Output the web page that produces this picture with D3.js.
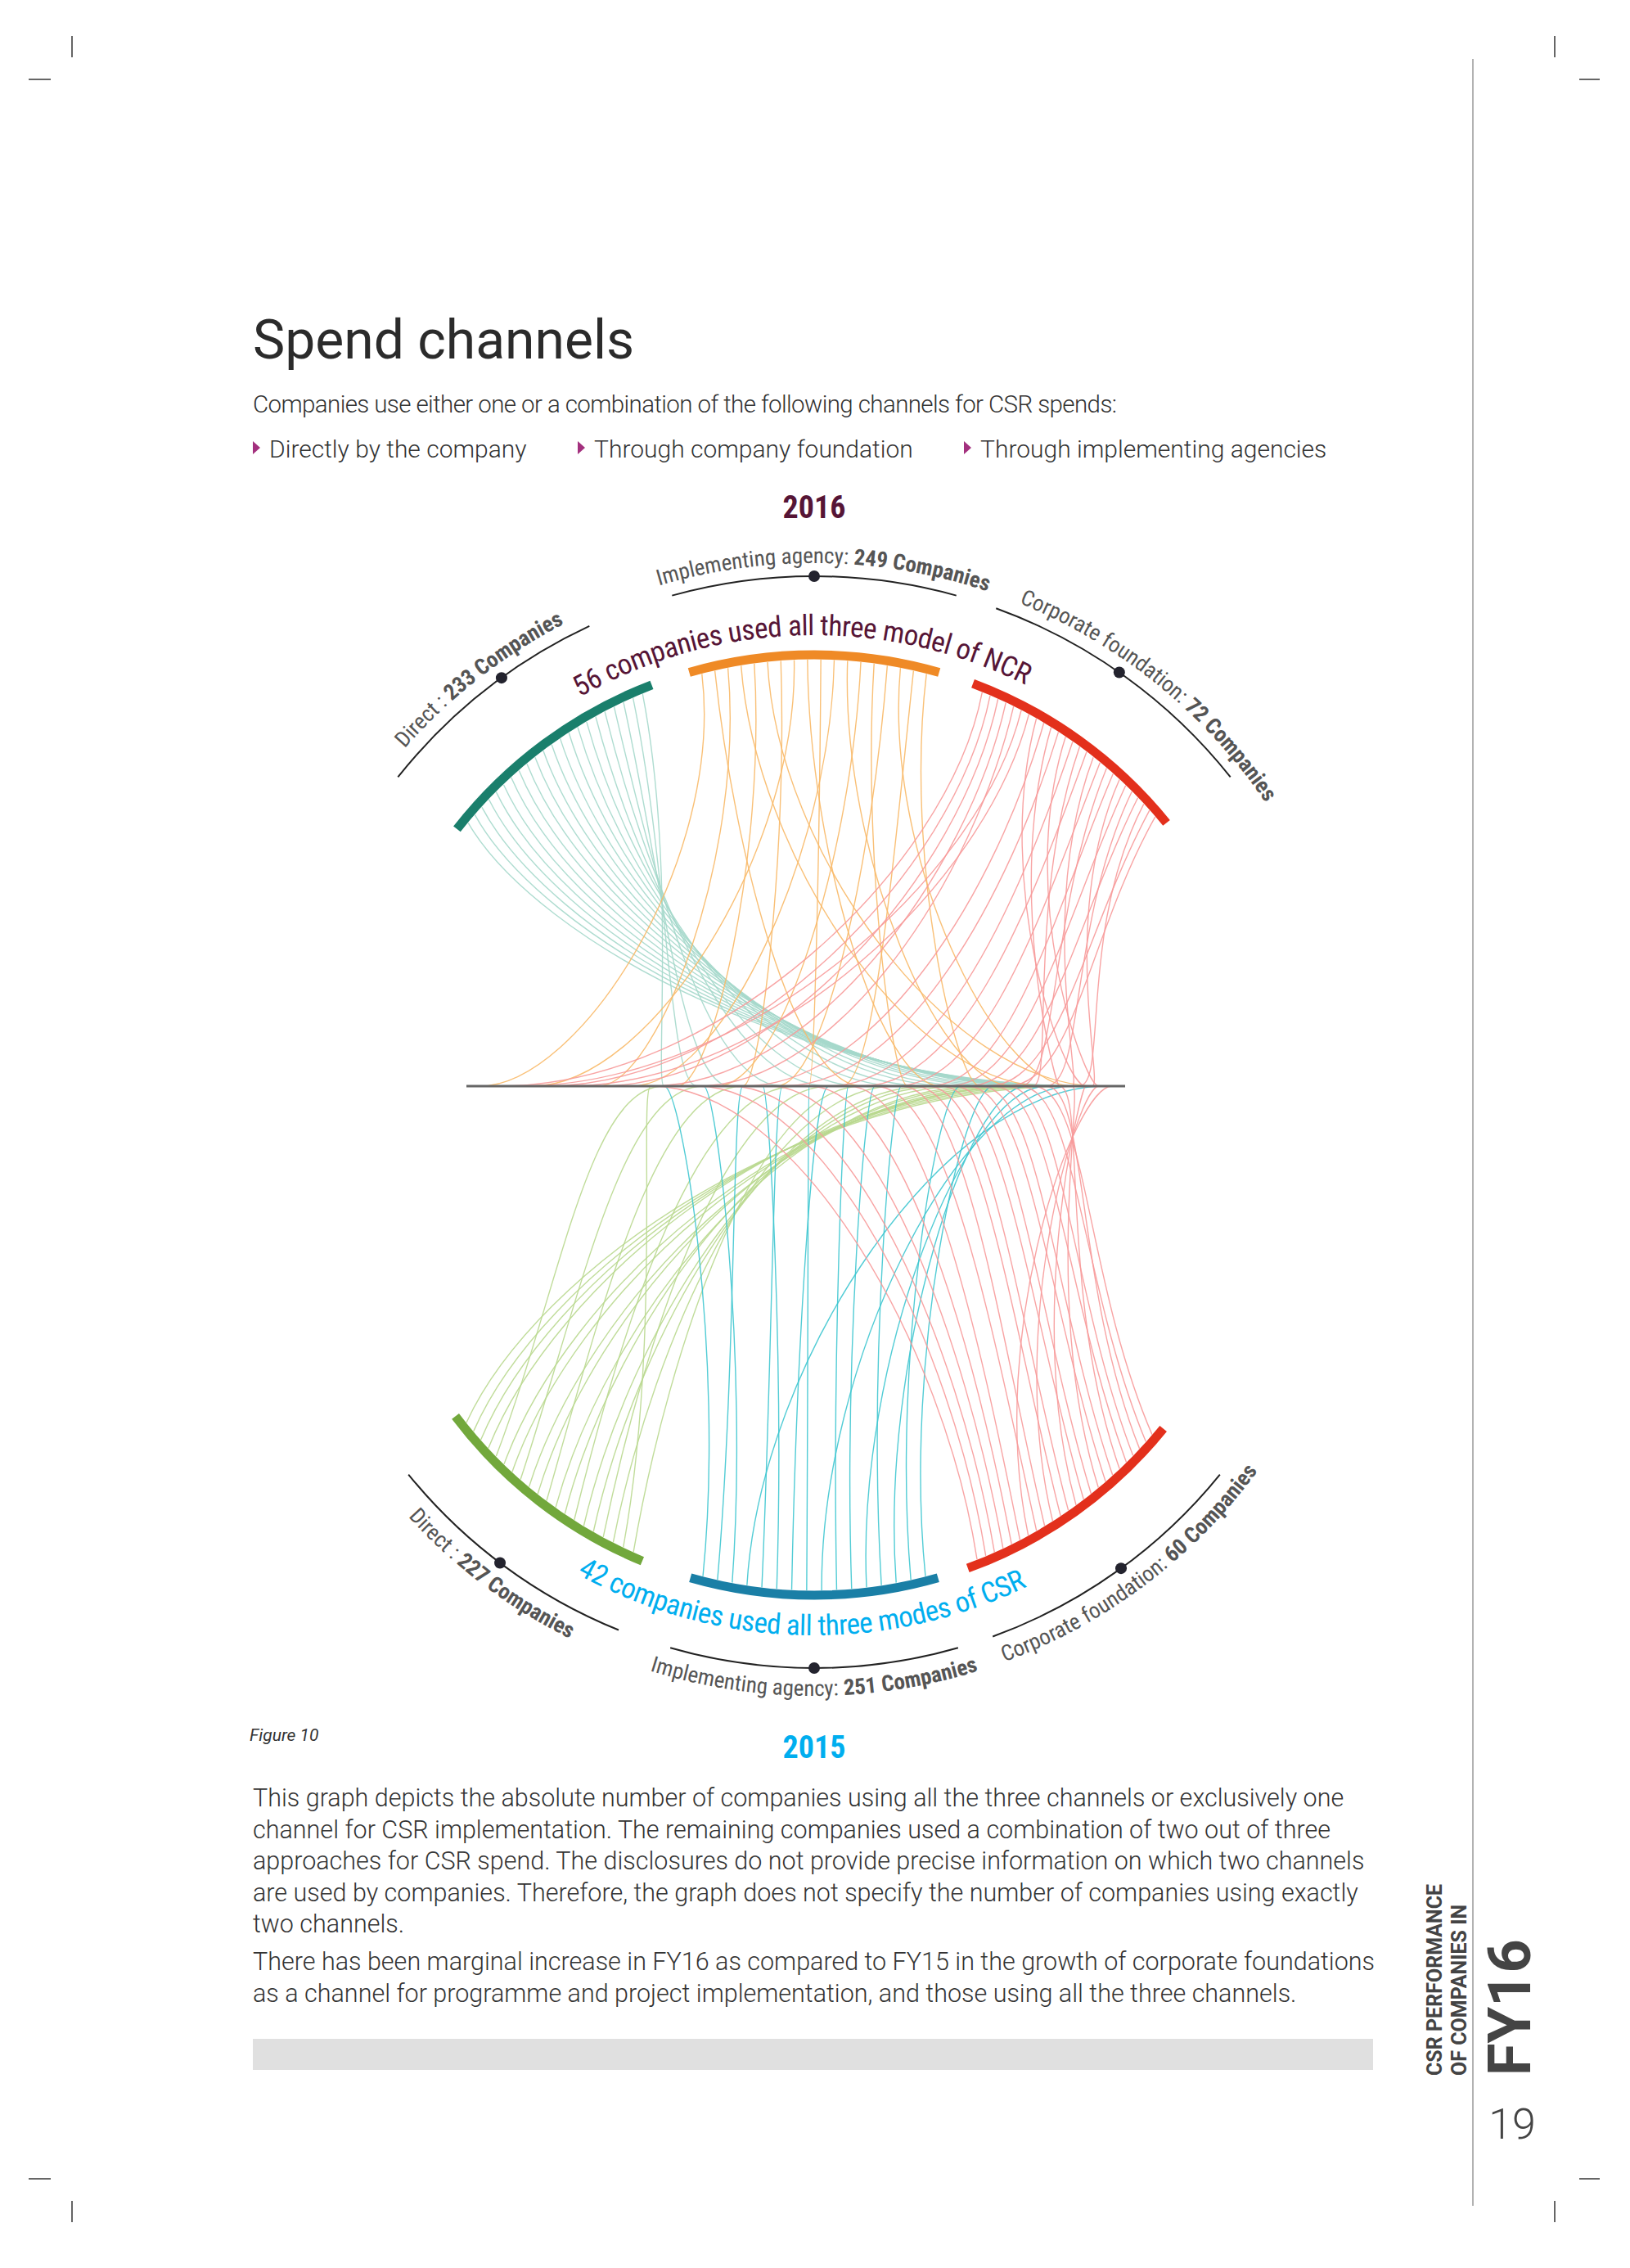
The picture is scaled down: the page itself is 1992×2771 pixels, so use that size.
<!DOCTYPE html>
<html><head><meta charset="utf-8">
<script src="https://cdn.jsdelivr.net/npm/d3@7"></script>
<style>
body{margin:0;background:#fff;}
text{font-family:"Roboto Condensed","Liberation Sans Narrow",Roboto,sans-serif;}
.body{font-family:Roboto,sans-serif;font-weight:300;fill:#333;}
</style></head>
<body><div id="chart"></div>
<script>
var W = 1992, H = 2771;

// channels and counts
var channels = ["Direct", "Implementing agency", "Corporate foundation"];
var counts2016 = [233, 249, 72];
var counts2015 = [227, 251, 60];
var allThree2016 = 56, allThree2015 = 42;

// where each link lands on the middle line (0 = left end, 100 = right end), in order along each bar
var ends2016Direct = [94,93,92,91,90,89,88,87,86,84,82,80,77,74,70,66,60,55,48,40,35,30];
var ends2016Agency = [2,60,20,88,32,96,42,10,72,52,25,83,38,67,47,92,57,78];
var ends2016Found = [5,12,20,28,35,8,15,94,42,90,48,96,55,86,60,92,65,84,70,95,73,88,76,93,79,82];
var ends2015Direct = [92,90,88,86,30,85,84,36,82,80,42,78,75,50,72,70,55,65,28,60];
var ends2015Agency = [30,42,36,97,48,45,55,52,92,58,62,88,66,85,75,80];
var ends2015Found = [28,35,40,46,52,58,98,62,66,96,68,70,94,72,74,92,76,78,90,80,82,88,84,86];

var svg = d3.select("#chart").append("svg").attr("width", W).attr("height", H);
var rad = Math.PI / 180;

// crop marks + side rule
var marks = [[88,44,88,70],[35,97,62,97],[1900,44,1900,70],[1930,97,1955,97],
  [88,2689,88,2715],[35,2662,62,2662],[1900,2689,1900,2715],[1930,2662,1955,2662],[1800,72,1800,2695]];
marks.forEach(function(m){
  svg.append("line").attr("x1",m[0]).attr("y1",m[1]).attr("x2",m[2]).attr("y2",m[3])
    .attr("stroke", m[3]-m[1] > 100 ? "#999" : "#333").attr("stroke-width",1.5);
});

// header
svg.append("text").attr("class","body").attr("x",309).attr("y",438).style("font-weight",400)
  .attr("font-size",66).style("fill","#2b2b2b").text("Spend channels");
svg.append("text").attr("class","body").attr("x",309).attr("y",504).attr("font-size",29.5)
  .attr("letter-spacing",-0.6).text("Companies use either one or a combination of the following channels for CSR spends:");
var bullets = [[309,"Directly by the company"],[706,"Through company foundation"],[1178,"Through implementing agencies"]];
bullets.forEach(function(b){
  svg.append("path").attr("d","M"+b[0]+",539 l9,8 l-9,8z").attr("fill","#a3307e");
  svg.append("text").attr("class","body").attr("x",b[0]+20).attr("y",559).attr("font-size",30).text(b[1]);
});

var lineY = 1327;
var x = d3.scaleLinear().domain([0,100]).range([570,1375]);

function pt(cx, cy, r, a, up){ // angle in degrees from top (up) or bottom
  return up ? [cx + r*Math.sin(a*rad), cy - r*Math.cos(a*rad)]
            : [cx + r*Math.sin(a*rad), cy + r*Math.cos(a*rad)];
}
function arcPath(cx, cy, r, a0, a1, up){
  var p0 = pt(cx,cy,r,a0,up), p1 = pt(cx,cy,r,a1,up);
  return "M"+p0[0]+","+p0[1]+" A"+r+","+r+" 0 0,"+(up?1:0)+" "+p1[0]+","+p1[1];
}

var uid = 0;
function drawHalf(cfg){
  var g = svg.append("g");
  var cx = 995, cy = cfg.cy, r = cfg.r, up = cfg.up;
  // links
  cfg.bars.forEach(function(b){
    var n = b.ends.length;
    var ang = d3.scaleLinear().domain([0, n-1]).range([b.a0 + 1.5, b.a1 - 1.5]);
    b.ends.forEach(function(e, i){
      var p0 = pt(cx, cy, r - 6, ang(i), up);
      var ex = x(e);
      var c1 = [p0[0] + (cx - p0[0]) * 0.2, p0[1] + (lineY - p0[1]) * 0.45];
      var c2 = [ex * 0.55 + p0[0] * 0.45, lineY];
      g.append("path").attr("d", "M"+p0+" C"+c1+" "+c2+" "+ex+","+lineY)
        .attr("fill","none").attr("stroke", b.link).attr("stroke-width",1.4).attr("opacity",0.9);
    });
  });
  // bars
  cfg.bars.forEach(function(b){
    g.append("path").attr("d", arcPath(cx, cy, r, b.a0, b.a1, up))
      .attr("fill","none").attr("stroke", b.color).attr("stroke-width",11);
  });
  // outer thin arcs with labels
  cfg.outer.forEach(function(o, i){
    g.append("path").attr("d", arcPath(cx, cy, cfg.ro, o.a0, o.a1, up))
      .attr("fill","none").attr("stroke","#222").attr("stroke-width",2);
    var d = pt(cx, cy, cfg.ro, o.dot, up);
    g.append("circle").attr("cx",d[0]).attr("cy",d[1]).attr("r",7).attr("fill","#23232e");
    var id = "lp" + (uid++);
    svg.append("defs").append("path").attr("id",id)
      .attr("d", arcPath(cx, cy, cfg.rl, o.mid-70, o.mid+70, up));
    var t = g.append("text").attr("font-size",27).attr("fill","#555")
      .append("textPath").attr("href","#"+id).attr("startOffset","50%").attr("text-anchor","middle");
    t.append("tspan").text(channels[i] + (i==0 ? " : " : ": "));
    t.append("tspan").attr("font-weight","bold").text(cfg.counts[i] + " Companies");
  });
  // big caption
  var id2 = "lp" + (uid++);
  svg.append("defs").append("path").attr("id",id2).attr("d", arcPath(cx, cy, cfg.rt, -80, 80, up));
  g.append("text").attr("font-size",35).attr("fill",cfg.captionColor).attr("letter-spacing",-0.5)
    .append("textPath").attr("href","#"+id2).attr("startOffset","49%").attr("text-anchor","middle")
    .text(cfg.caption);
  svg.append("text").attr("x",995).attr("y",cfg.yearY).attr("text-anchor","middle")
    .attr("font-size",38).attr("font-weight","bold").attr("fill",cfg.captionColor).text(cfg.year);
}

drawHalf({up:true, cy:1354, r:554, ro:650, rl:666, rt:578, year:"2016", yearY:633,
  counts:counts2016, captionColor:"#561536",
  caption: allThree2016 + " companies used all three model of NCR",
  bars:[{a0:-52,a1:-21,color:"#1a7f6c",link:"#a5d8cb",ends:ends2016Direct},
        {a0:-16,a1:16,color:"#ef8a26",link:"#f8b968",ends:ends2016Agency},
        {a0:20.5,a1:51,color:"#e3301c",link:"#f79a9a",ends:ends2016Found}],
  outer:[{a0:-51.5,a1:-25,dot:-36,mid:-38},{a0:-15.5,a1:15.5,dot:0,mid:1},{a0:20,a1:51.5,dot:35,mid:39}]});

drawHalf({up:false, cy:1400, r:549, ro:638, rl:672, rt:598, year:"2015", yearY:2148,
  counts:counts2015, captionColor:"#00aeef",
  caption: allThree2015 + " companies used all three  modes of CSR",
  bars:[{a0:-53,a1:-22.5,color:"#72a83c",link:"#b9d88f",ends:ends2015Direct},
        {a0:-16,a1:16,color:"#1a7fa6",link:"#3fc7d0",ends:ends2015Agency},
        {a0:20,a1:51,color:"#e3301c",link:"#f79a9a",ends:ends2015Found}],
  outer:[{a0:-51,a1:-22,dot:-37,mid:-37},{a0:-16,a1:16,dot:0,mid:0},{a0:20,a1:51,dot:36,mid:37}]});

// middle line
svg.append("line").attr("x1",x(0)).attr("x2",x(100)).attr("y1",lineY).attr("y2",lineY)
  .attr("stroke","#666").attr("stroke-width",3);

svg.append("text").attr("x",305).attr("y",2127).attr("font-size",21).attr("font-style","italic")
  .style("font-family","Roboto").attr("fill","#333").text("Figure 10");

var para1 = ["This graph depicts the absolute number of companies using all the three channels or exclusively one",
 "channel for CSR implementation. The remaining companies used a combination of two out of three",
 "approaches for CSR spend. The disclosures do not provide precise information on which two channels",
 "are used by companies. Therefore, the graph does not specify the number of companies using exactly",
 "two channels."];
var para2 = ["There has been marginal increase in FY16 as compared to FY15 in the growth of corporate foundations",
 "as a channel for programme and project implementation, and those using all the three channels."];
para1.forEach(function(l,i){ svg.append("text").attr("class","body").attr("x",309).attr("y",2207+i*38.5).attr("font-size",30.5).text(l); });
para2.forEach(function(l,i){ svg.append("text").attr("class","body").attr("x",309).attr("y",2407+i*38.5).attr("font-size",30.5).text(l); });

svg.append("rect").attr("x",309).attr("y",2491).attr("width",1369).attr("height",38).attr("fill","#e0e0e0");

// side label
var side = svg.append("g").attr("transform","translate(1762,2536) rotate(-90)");
side.append("text").attr("font-size",25).attr("font-weight","bold").attr("fill","#444")
  .style("font-family","Roboto").text("CSR PERFORMANCE");
side.append("text").attr("y",30).attr("font-size",25).attr("font-weight","bold").attr("fill","#444")
  .style("font-family","Roboto").text("OF COMPANIES IN");
side.append("text").attr("y",108).attr("font-size",72).attr("font-weight","bold").attr("fill","#444")
  .style("font-family","Roboto").text("FY16");
svg.append("text").attr("x",1848).attr("y",2613).attr("text-anchor","middle").attr("font-size",52)
  .style("font-family","Roboto").style("font-weight",300).attr("fill","#444").text("19");
</script></body></html>
